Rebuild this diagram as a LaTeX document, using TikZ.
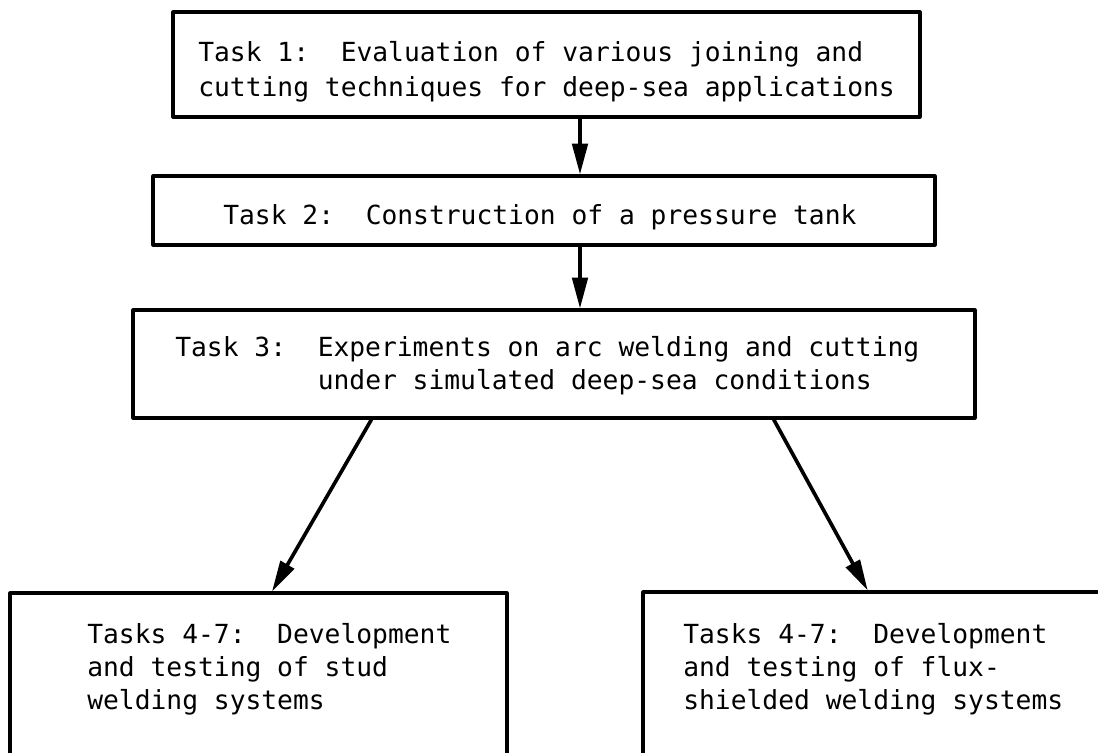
\documentclass[tikz,border=0pt]{standalone}
\usepackage{fontspec}
\newfontfamily\typefont{DejaVu Sans Mono}
\usetikzlibrary{arrows.meta,calc,fit}

\begin{document}
\begin{tikzpicture}[x=0.025cm, y=-0.025cm, line join=round,
	>={Triangle[length=22pt,width=11pt]},
	font=\typefont\fontsize{18.7}{23.5}\selectfont,
	taskbox/.style={draw, line width=2.2pt, inner sep=0pt},
	tasktext/.style={anchor=north west, align=left, inner sep=0pt},
	flow/.style={->, line width=2.6pt}]
	\useasboundingbox (0,0) rectangle (1098,753);
	\clip (0,0) rectangle (1098,753);
	% cac khung
	\node[taskbox, fit={(173,12) (920,117)}] (t1) {};
	\node[taskbox, fit={(153,176) (935,245)}] (t2) {};
	\node[taskbox, fit={(133,310) (975,418)}] (t3) {};
	\node[taskbox, fit={(10,593) (507,800)}] (t4) {};
	\node[taskbox, fit={(643,592) (1160,800)}] (t5) {};
	% chu trong khung
	\node[tasktext] (x1) at (198,41) {Task 1:\ \ Evaluation of various joining and\\[1.5pt]cutting techniques for deep-sea applications};
	\node[tasktext] (x2) at (223,204) {Task 2:\ \ Construction of a pressure tank};
	\node[tasktext] (x3) at (175,336) {Task 3:\ \ Experiments on arc welding and cutting\\\phantom{Task 3:\ \ }under simulated deep-sea conditions};
	\node[tasktext] (x4) at (87,623) {Tasks 4-7:\ \ Development\\and testing of stud\\welding systems};
	\node[tasktext] (x5) at (683,623) {Tasks 4-7:\ \ Development\\and testing of flux-\\shielded welding systems};
	% mui ten
	\coordinate (spine) at (580,0);
	\foreach \a/\b in {t1/t2,t2/t3}
		\draw[flow] (\a.south -| spine)--(\b.north -| spine);
	\draw[flow] ($(t3.south west)!0.284!(t3.south east)$)--($(t4.north west)!0.527!(t4.north east)$);
	\draw[flow] ($(t3.south west)!0.76!(t3.south east)$)--($(t5.north west)!0.435!(t5.north east)$);
\end{tikzpicture}
\end{document}
